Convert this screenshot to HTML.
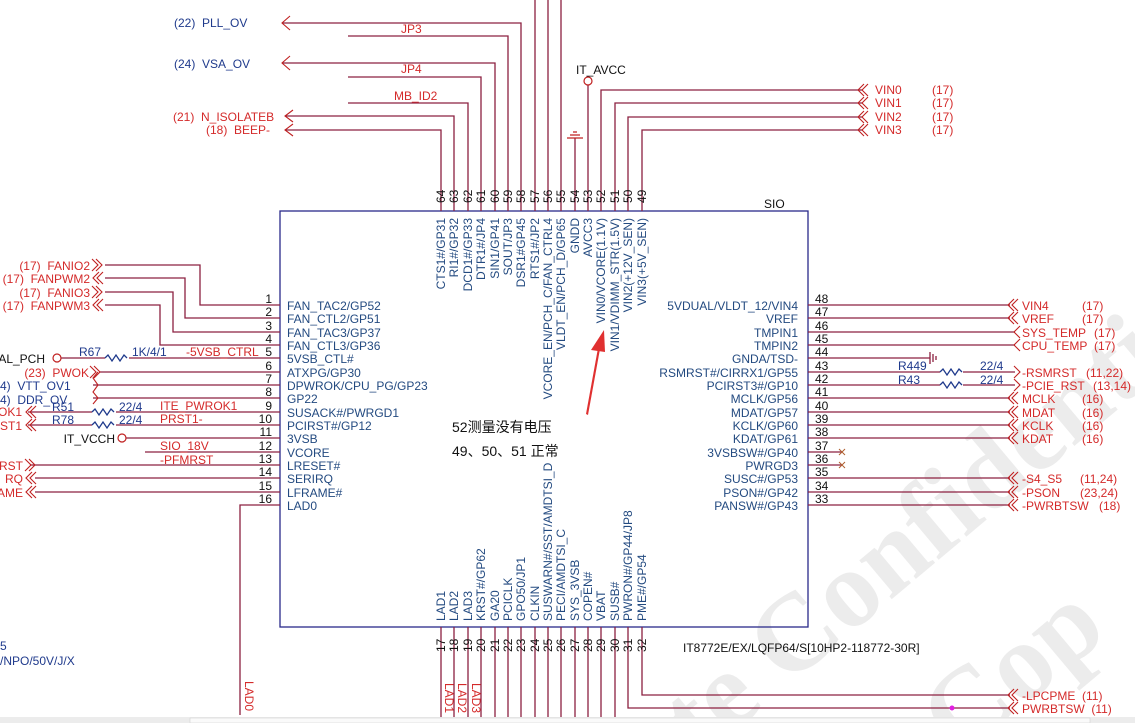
<!DOCTYPE html>
<html><head><meta charset="utf-8"><style>
html,body{margin:0;padding:0;background:#fff;width:1135px;height:723px;overflow:hidden;}
svg{display:block;}
text{font-family:"Liberation Sans","Noto Sans CJK SC",sans-serif;font-size:12px;white-space:pre;}
.r{fill:#d42a2a}.b{fill:#1f3a8c}.k{fill:#111}.p{fill:#234a80}
.ln{stroke:#8c2040;stroke-width:1.3;fill:none}
.ch{stroke:#c02020;stroke-width:1.1;fill:none}
.rs{stroke:#1f3a8c;stroke-width:1.3;fill:none}
</style></head><body>
<svg width="1135" height="723" viewBox="0 0 1135 723" xmlns="http://www.w3.org/2000/svg" xml:space="preserve">
<defs>
<path id="cR" d="M0,-6 L6,0 L0,6 M4,-6 L10,0 L4,6" class="ch"/>
<path id="cL" d="M10,-6 L4,0 L10,6 M6,-6 L0,0 L6,6" class="ch"/>
<path id="zz" d="M0,0 l3,-3 l4,6 l4,-6 l4,6 l4,-6 l3,3" class="rs"/>
</defs>
<!-- watermark -->
<g fill="#ececec" font-weight="bold">
<text transform="translate(700,760) rotate(-40)" style="font-family:'Liberation Serif',serif;font-size:110px">te Confidenti</text>
<text transform="translate(960,760) rotate(-40)" style="font-family:'Liberation Serif',serif;font-size:110px">Cop</text>
</g>

<!-- box -->
<rect x="280" y="211" width="528" height="416" fill="none" stroke="#2a2a8a" stroke-width="1.3"/>
<text x="764" y="208" class="k">SIO</text>
<text x="683" y="652" class="k">IT8772E/EX/LQFP64/S[10HP2-118772-30R]</text>

<!-- top routing -->
<g class="ln">
<path d="M441,211 V130 H285"/><path d="M454,211 V116 H285"/>
<path d="M468,211 V103 H348"/><path d="M481,211 V77 H348"/>
<path d="M495,211 V63 H282"/><path d="M508,211 V36 H348"/>
<path d="M521,211 V23 H282"/>
<path d="M535,211 V0"/><path d="M548,211 V0"/><path d="M561,211 V0"/>
<path d="M575,211 V138"/><path d="M588,211 V85"/>
<path d="M601,211 V90 H862"/><path d="M615,211 V103 H862"/>
<path d="M628,211 V117 H862"/><path d="M642,211 V130 H862"/>
</g>
<path d="M290,16 L282,23 L290,30 M290,56 L282,63 L290,70 M293,110 L285,116 L293,122 M293,124 L285,130 L293,136" class="ch"/>
<path d="M567,138 H583 M570,135 H580 M573,132 H577" stroke="#c02020" stroke-width="1.2"/>
<circle cx="588" cy="81" r="4" fill="none" stroke="#c02020" stroke-width="1.2"/>
<text x="576" y="74" class="k">IT_AVCC</text>
<text x="174" y="27" class="b">(22)  PLL_OV</text>
<text x="174" y="68" class="b">(24)  VSA_OV</text>
<text x="173" y="121" class="r">(21)  N_ISOLATEB</text>
<text x="206" y="134" class="r">(18)  BEEP-</text>
<text x="401" y="33" class="r">JP3</text>
<text x="401" y="73" class="r">JP4</text>
<text x="394" y="100" class="r">MB_ID2</text>
<use href="#cL" x="858" y="90"/><use href="#cL" x="858" y="103"/><use href="#cL" x="858" y="117"/><use href="#cL" x="858" y="130"/>
<text x="875" y="94" class="r">VIN0</text><text x="932" y="94" class="r">(17)</text>
<text x="875" y="107" class="r">VIN1</text><text x="932" y="107" class="r">(17)</text>
<text x="875" y="121" class="r">VIN2</text><text x="932" y="121" class="r">(17)</text>
<text x="875" y="134" class="r">VIN3</text><text x="932" y="134" class="r">(17)</text>

<!-- top pin numbers and labels -->
<g class="k">
<text transform="translate(445,203) rotate(-90)">64</text><text transform="translate(458,203) rotate(-90)">63</text>
<text transform="translate(472,203) rotate(-90)">62</text><text transform="translate(485,203) rotate(-90)">61</text>
<text transform="translate(499,203) rotate(-90)">60</text><text transform="translate(512,203) rotate(-90)">59</text>
<text transform="translate(525,203) rotate(-90)">58</text><text transform="translate(539,203) rotate(-90)">57</text>
<text transform="translate(552,203) rotate(-90)">56</text><text transform="translate(565,203) rotate(-90)">55</text>
<text transform="translate(579,203) rotate(-90)">54</text><text transform="translate(592,203) rotate(-90)">53</text>
<text transform="translate(605,203) rotate(-90)">52</text><text transform="translate(619,203) rotate(-90)">51</text>
<text transform="translate(632,203) rotate(-90)">50</text><text transform="translate(646,203) rotate(-90)">49</text>
</g>
<g class="p" text-anchor="end">
<text transform="translate(445,218) rotate(-90)">CTS1#/GP31</text>
<text transform="translate(458,218) rotate(-90)">RI1#/GP32</text>
<text transform="translate(472,218) rotate(-90)">DCD1#/GP33</text>
<text transform="translate(485,218) rotate(-90)">DTR1#/JP4</text>
<text transform="translate(499,218) rotate(-90)">SIN1/GP41</text>
<text transform="translate(512,218) rotate(-90)">SOUT/JP3</text>
<text transform="translate(525,218) rotate(-90)">DSR1#GP45</text>
<text transform="translate(539,218) rotate(-90)">RTS1#/JP2</text>
<text transform="translate(552,218) rotate(-90)">VCORE_EN/PCH_C/FAN_CTRL4</text>
<text transform="translate(565,218) rotate(-90)">VLDT_EN/PCH_D/GP65</text>
<text transform="translate(579,218) rotate(-90)">GNDD</text>
<text transform="translate(592,218) rotate(-90)">AVCC3</text>
<text transform="translate(605,218) rotate(-90)">VIN0/VCORE(1.1V)</text>
<text transform="translate(619,218) rotate(-90)">VIN1/VDIMM_STR(1.5V)</text>
<text transform="translate(632,218) rotate(-90)">VIN2(+12V_SEN)</text>
<text transform="translate(646,218) rotate(-90)">VIN3(+5V_SEN)</text>
</g>

<!-- left side -->
<g class="ln">
<path d="M105,265 H200 V305 H280"/><path d="M105,278 H185 V318 H280"/>
<path d="M105,292 H173 V332 H280"/><path d="M105,305 H160 V345 H280"/>
<path d="M61,358 H105 M129,358 H280"/>
<path d="M100,372 H280"/><path d="M93,385 H280"/><path d="M93,398 H280"/>
<path d="M28,412 H92 M116,412 H280"/><path d="M28,425 H92 M116,425 H280"/>
<path d="M126,438 H280"/><path d="M145,452 H280"/>
<path d="M30,465 H280"/><path d="M35,478 H280"/><path d="M35,492 H280"/>
<path d="M280,505 H240 V715"/>
</g>
<use href="#cR" x="92" y="265"/><use href="#cL" x="93" y="278"/><use href="#cR" x="92" y="292"/><use href="#cL" x="93" y="305"/>
<use href="#cR" x="90" y="372"/>
<path d="M98,372 L93,378 L98,385 L93,392 L98,398 L93,404" class="ch"/>
<use href="#cL" x="26" y="412"/><use href="#cL" x="26" y="425"/>
<use href="#cR" x="25" y="465"/><use href="#cL" x="26" y="478"/><use href="#cL" x="26" y="492"/>
<use href="#zz" x="105" y="358"/><use href="#zz" x="92" y="412"/><use href="#zz" x="92" y="425"/>
<circle cx="57" cy="358" r="4" fill="none" stroke="#c02020" stroke-width="1.2"/>
<circle cx="122" cy="438" r="4" fill="none" stroke="#c02020" stroke-width="1.2"/>
<text x="90" y="270" text-anchor="end" class="r">(17)  FANIO2</text>
<text x="90" y="283" text-anchor="end" class="r">(17)  FANPWM2</text>
<text x="90" y="297" text-anchor="end" class="r">(17)  FANIO3</text>
<text x="90" y="310" text-anchor="end" class="r">(17)  FANPWM3</text>
<text x="45" y="363" text-anchor="end" class="k">AL_PCH</text>
<text x="79" y="356" class="b">R67</text><text x="132" y="356" class="b">1K/4/1</text>
<text x="186" y="356" class="r">-5VSB_CTRL</text>
<text x="89" y="377" text-anchor="end" class="r">(23)  PWOK</text>
<text x="0" y="390" class="b">4)  VTT_OV1</text>
<text x="0" y="404" class="b">4)  DDR_OV</text>
<text x="52" y="411" class="b">R51</text><text x="119" y="411" class="b">22/4</text>
<text x="52" y="424" class="b">R78</text><text x="119" y="424" class="b">22/4</text>
<text x="22" y="416" text-anchor="end" class="r">OK1</text>
<text x="22" y="430" text-anchor="end" class="r">ST1</text>
<text x="160" y="410" class="r">ITE_PWROK1</text>
<text x="160" y="423" class="r">PRST1-</text>
<text x="115" y="443" text-anchor="end" class="k">IT_VCCH</text>
<text x="160" y="450" class="r">SIO_18V</text>
<text x="160" y="464" class="r">-PFMRST</text>
<text x="23" y="470" text-anchor="end" class="r">RST</text>
<text x="23" y="483" text-anchor="end" class="r">RQ</text>
<text x="23" y="497" text-anchor="end" class="r">AME</text>
<text x="0" y="650" class="b">5</text>
<text x="0" y="665" class="b">/NPO/50V/J/X</text>
<text transform="translate(245,681) rotate(90)" class="r">LAD0</text>

<g class="k" text-anchor="end">
<text x="272" y="303">1</text><text x="272" y="316">2</text><text x="272" y="330">3</text><text x="272" y="343">4</text>
<text x="272" y="356">5</text><text x="272" y="370">6</text><text x="272" y="383">7</text><text x="272" y="396">8</text>
<text x="272" y="410">9</text><text x="272" y="423">10</text><text x="272" y="436">11</text><text x="272" y="450">12</text>
<text x="272" y="463">13</text><text x="272" y="476">14</text><text x="272" y="490">15</text><text x="272" y="503">16</text>
</g>
<g class="p">
<text x="287" y="310">FAN_TAC2/GP52</text><text x="287" y="323">FAN_CTL2/GP51</text>
<text x="287" y="337">FAN_TAC3/GP37</text><text x="287" y="350">FAN_CTL3/GP36</text>
<text x="287" y="363">5VSB_CTL#</text><text x="287" y="377">ATXPG/GP30</text>
<text x="287" y="390">DPWROK/CPU_PG/GP23</text><text x="287" y="403">GP22</text>
<text x="287" y="417">SUSACK#/PWRGD1</text><text x="287" y="430">PCIRST#/GP12</text>
<text x="287" y="443">3VSB</text><text x="287" y="457">VCORE</text>
<text x="287" y="470">LRESET#</text><text x="287" y="483">SERIRQ</text>
<text x="287" y="497">LFRAME#</text><text x="287" y="510">LAD0</text>
</g>

<!-- right side -->
<g class="ln">
<path d="M808,305 H1010"/><path d="M808,318 H1010"/><path d="M808,332 H1015"/><path d="M808,345 H1015"/>
<path d="M808,358 H930"/><path d="M930,352 V364 M933,354 V362 M936,356 V360"/>
<path d="M808,372 H940 M963,372 H1015"/><path d="M808,385 H940 M963,385 H1015"/>
<path d="M808,398 H1010"/><path d="M808,412 H1010"/><path d="M808,425 H1010"/><path d="M808,438 H1010"/>
<path d="M808,452 H842"/><path d="M808,465 H842"/>
<path d="M808,478 H1010"/><path d="M808,492 H1010"/><path d="M808,505 H1010"/>
</g>
<path d="M839,449 l6,6 m0,-6 l-6,6 M839,462 l6,6 m0,-6 l-6,6" stroke="#b06030" stroke-width="1"/>
<use href="#zz" x="940" y="372"/><use href="#zz" x="940" y="385"/>
<use href="#cL" x="1008" y="305"/><use href="#cL" x="1008" y="318"/>
<path d="M1020,326 L1014,332 L1020,338 M1020,339 L1014,345 L1020,351" class="ch"/>
<path d="M1014,366 L1020,372 L1014,378 M1014,379 L1020,385 L1014,391" class="ch"/>
<use href="#cL" x="1008" y="398"/><use href="#cL" x="1008" y="412"/><use href="#cL" x="1008" y="425"/><use href="#cL" x="1008" y="438"/>
<use href="#cL" x="1008" y="478"/><use href="#cL" x="1008" y="492"/><use href="#cL" x="1008" y="505"/>
<text x="898" y="370" class="b">R449</text><text x="980" y="370" class="b">22/4</text>
<text x="898" y="384" class="b">R43</text><text x="980" y="384" class="b">22/4</text>
<g class="r">
<text x="1022" y="310">VIN4</text><text x="1082" y="310">(17)</text>
<text x="1022" y="323">VREF</text><text x="1082" y="323">(17)</text>
<text x="1022" y="337">SYS_TEMP</text><text x="1094" y="337">(17)</text>
<text x="1022" y="350">CPU_TEMP</text><text x="1094" y="350">(17)</text>
<text x="1022" y="377">-RSMRST</text><text x="1086" y="377">(11,22)</text>
<text x="1022" y="390">-PCIE_RST</text><text x="1093" y="390">(13,14)</text>
<text x="1022" y="403">MCLK</text><text x="1082" y="403">(16)</text>
<text x="1022" y="417">MDAT</text><text x="1082" y="417">(16)</text>
<text x="1022" y="430">KCLK</text><text x="1082" y="430">(16)</text>
<text x="1022" y="443">KDAT</text><text x="1082" y="443">(16)</text>
<text x="1022" y="483">-S4_S5</text><text x="1080" y="483">(11,24)</text>
<text x="1022" y="497">-PSON</text><text x="1080" y="497">(23,24)</text>
<text x="1022" y="510">-PWRBTSW</text><text x="1099" y="510">(18)</text>
</g>
<g class="k">
<text x="815" y="303">48</text><text x="815" y="316">47</text><text x="815" y="330">46</text><text x="815" y="343">45</text>
<text x="815" y="356">44</text><text x="815" y="370">43</text><text x="815" y="383">42</text><text x="815" y="396">41</text>
<text x="815" y="410">40</text><text x="815" y="423">39</text><text x="815" y="436">38</text><text x="815" y="450">37</text>
<text x="815" y="463">36</text><text x="815" y="476">35</text><text x="815" y="490">34</text><text x="815" y="503">33</text>
</g>
<g class="p" text-anchor="end">
<text x="798" y="310">5VDUAL/VLDT_12/VIN4</text><text x="798" y="337">TMPIN1</text>
<text x="798" y="323">VREF</text><text x="798" y="350">TMPIN2</text>
<text x="798" y="363">GNDA/TSD-</text><text x="798" y="377">RSMRST#/CIRRX1/GP55</text>
<text x="798" y="390">PCIRST3#/GP10</text><text x="798" y="403">MCLK/GP56</text>
<text x="798" y="417">MDAT/GP57</text><text x="798" y="430">KCLK/GP60</text>
<text x="798" y="443">KDAT/GP61</text><text x="798" y="457">3VSBSW#/GP40</text>
<text x="798" y="470">PWRGD3</text><text x="798" y="483">SUSC#/GP53</text>
<text x="798" y="497">PSON#/GP42</text><text x="798" y="510">PANSW#/GP43</text>
</g>

<!-- bottom -->
<g class="ln">
<path d="M441,627 V717"/><path d="M454,627 V717"/><path d="M468,627 V717"/><path d="M481,627 V717"/>
<path d="M495,627 V717"/><path d="M508,627 V717"/><path d="M521,627 V717"/><path d="M535,627 V717"/>
<path d="M548,627 V717"/><path d="M561,627 V717"/><path d="M575,627 V717"/><path d="M588,627 V717"/>
<path d="M601,627 V717"/><path d="M615,627 V717"/>
<path d="M628,627 V708 H1010"/><path d="M642,627 V695 H1010"/>
</g>
<use href="#cL" x="1008" y="695"/><use href="#cL" x="1008" y="708"/>
<circle cx="952" cy="708" r="2.5" fill="#e020e0"/>
<text x="1022" y="700" class="r">-LPCPME  (11)</text>
<text x="1022" y="713" class="r">PWRBTSW  (11)</text>
<g class="r">
<text transform="translate(445,683) rotate(90)">LAD1</text>
<text transform="translate(458,683) rotate(90)">LAD2</text>
<text transform="translate(472,683) rotate(90)">LAD3</text>
</g>
<g class="k">
<text transform="translate(445,652) rotate(-90)">17</text><text transform="translate(458,652) rotate(-90)">18</text>
<text transform="translate(472,652) rotate(-90)">19</text><text transform="translate(485,652) rotate(-90)">20</text>
<text transform="translate(499,652) rotate(-90)">21</text><text transform="translate(512,652) rotate(-90)">22</text>
<text transform="translate(525,652) rotate(-90)">23</text><text transform="translate(539,652) rotate(-90)">24</text>
<text transform="translate(552,652) rotate(-90)">25</text><text transform="translate(565,652) rotate(-90)">26</text>
<text transform="translate(579,652) rotate(-90)">27</text><text transform="translate(592,652) rotate(-90)">28</text>
<text transform="translate(605,652) rotate(-90)">29</text><text transform="translate(619,652) rotate(-90)">30</text>
<text transform="translate(632,652) rotate(-90)">31</text><text transform="translate(646,652) rotate(-90)">32</text>
</g>
<g class="p">
<text transform="translate(445,621) rotate(-90)">LAD1</text>
<text transform="translate(458,621) rotate(-90)">LAD2</text>
<text transform="translate(472,621) rotate(-90)">LAD3</text>
<text transform="translate(485,621) rotate(-90)">KRST#/GP62</text>
<text transform="translate(499,621) rotate(-90)">GA20</text>
<text transform="translate(512,621) rotate(-90)">PCICLK</text>
<text transform="translate(525,621) rotate(-90)">GPO50/JP1</text>
<text transform="translate(539,621) rotate(-90)">CLKIN</text>
<text transform="translate(552,621) rotate(-90)">SUSWARN#/SST/AMDTSI_D</text>
<text transform="translate(565,621) rotate(-90)">PECI/AMDTSI_C</text>
<text transform="translate(579,621) rotate(-90)">SYS_3VSB</text>
<text transform="translate(592,621) rotate(-90)">COPEN#</text>
<text transform="translate(605,621) rotate(-90)">VBAT</text>
<text transform="translate(619,621) rotate(-90)">SUSB#</text>
<text transform="translate(632,621) rotate(-90)">PWRON#/GP44/JP8</text>
<text transform="translate(646,621) rotate(-90)">PME#/GP54</text>
</g>

<!-- annotation -->
<path d="M586,414 L598,348 L600,349 L588,415 Z" fill="#e03030"/>
<path d="M604,330 L591,350 L605,352 Z" fill="#e03030"/>
<text x="452" y="432" style="font-size:14px" class="k">52测量没有电压</text>
<text x="452" y="456" style="font-size:14px" class="k">49、50、51 正常</text>

<!-- bottom strip -->
<rect x="0" y="717" width="1135" height="6" fill="#ececec"/>
<rect x="190" y="718" width="900" height="5" fill="#fafafa" stroke="#d0d0d0" stroke-width="0.6"/>
</svg>
</body></html>
